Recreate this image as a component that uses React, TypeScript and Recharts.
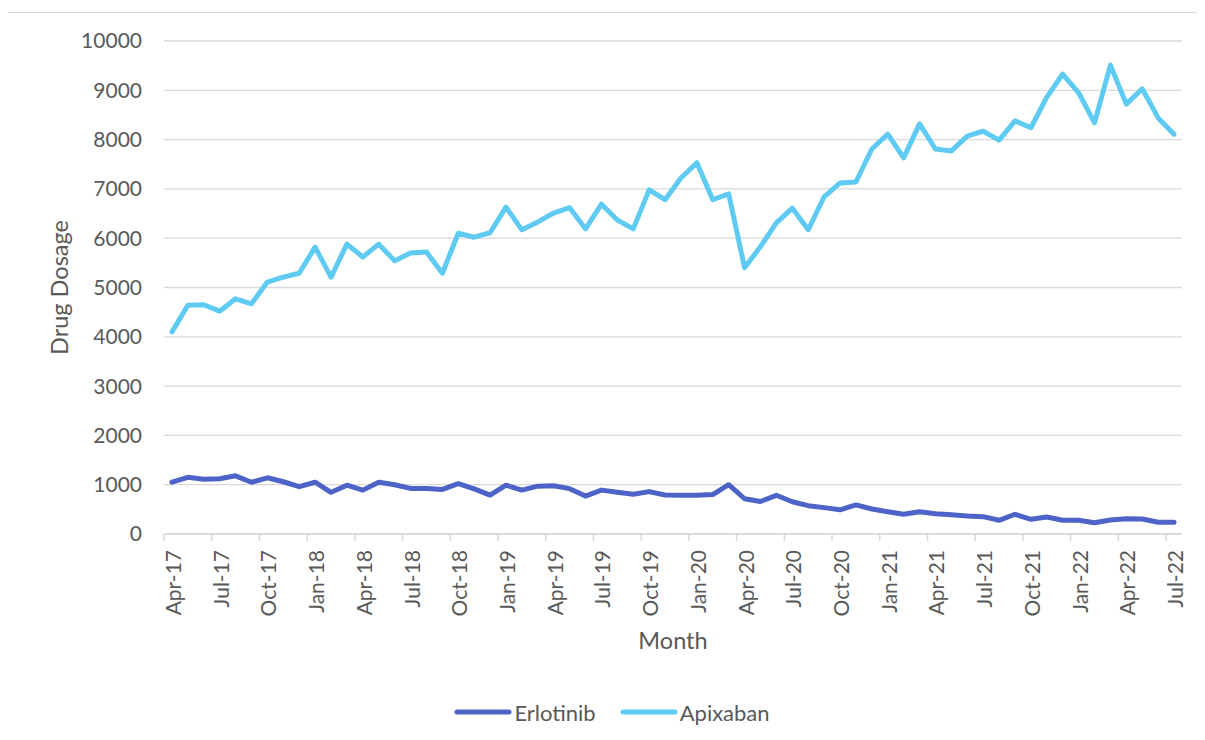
import { LineChart, Line, XAxis, YAxis, CartesianGrid, Legend } from "recharts";

// monthly drug dosage, Apr-17 .. Jul-22
const MONTHS = [
  "Apr-17", "May-17", "Jun-17", "Jul-17", "Aug-17", "Sep-17", "Oct-17", "Nov-17", "Dec-17",
  "Jan-18", "Feb-18", "Mar-18", "Apr-18", "May-18", "Jun-18", "Jul-18", "Aug-18", "Sep-18", "Oct-18", "Nov-18", "Dec-18",
  "Jan-19", "Feb-19", "Mar-19", "Apr-19", "May-19", "Jun-19", "Jul-19", "Aug-19", "Sep-19", "Oct-19", "Nov-19", "Dec-19",
  "Jan-20", "Feb-20", "Mar-20", "Apr-20", "May-20", "Jun-20", "Jul-20", "Aug-20", "Sep-20", "Oct-20", "Nov-20", "Dec-20",
  "Jan-21", "Feb-21", "Mar-21", "Apr-21", "May-21", "Jun-21", "Jul-21", "Aug-21", "Sep-21", "Oct-21", "Nov-21", "Dec-21",
  "Jan-22", "Feb-22", "Mar-22", "Apr-22", "May-22", "Jun-22", "Jul-22",
];

const ERLOTINIB = [
  1050, 1150, 1110, 1120, 1180, 1050, 1140, 1060, 960,
  1050, 845, 990, 890, 1050, 1000, 925, 925, 905, 1020, 915, 790,
  990, 890, 970, 980, 920, 770, 890, 845, 805, 860, 790, 785,
  785, 800, 1000, 715, 660, 785, 655, 575, 535, 490, 590, 507,
  450, 400, 450, 412, 392, 365, 352, 278, 400, 298, 345, 278,
  278, 230, 284, 310, 305, 237, 237,
];

const APIXABAN = [
  4100, 4640, 4650, 4520, 4770, 4670, 5110, 5210, 5290,
  5820, 5210, 5880, 5620, 5880, 5540, 5700, 5720, 5290, 6100, 6020, 6110,
  6630, 6170, 6330, 6510, 6620, 6190, 6690, 6370, 6190, 6980, 6780, 7220,
  7530, 6780, 6900, 5400, 5830, 6310, 6610, 6170, 6840, 7120, 7140, 7810,
  8110, 7630, 8320, 7810, 7770, 8070, 8170, 7990, 8380, 8240, 8860, 9330,
  8950, 8340, 9510, 8720, 9030, 8440, 8110,
];

const SERIES_NAMES = ["Erlotinib", "Apixaban"];

const X_TICK_LABELS = [
  "Apr-17", "Jul-17", "Oct-17", "Jan-18", "Apr-18", "Jul-18", "Oct-18", "Jan-19", "Apr-19", "Jul-19", "Oct-19",
  "Jan-20", "Apr-20", "Jul-20", "Oct-20", "Jan-21", "Apr-21", "Jul-21", "Oct-21", "Jan-22", "Apr-22", "Jul-22",
];
const Y_TICKS = [0, 1000, 2000, 3000, 4000, 5000, 6000, 7000, 8000, 9000, 10000];

const data = MONTHS.map((month, idx) => ({ idx, month, erlotinib: ERLOTINIB[idx], apixaban: APIXABAN[idx] }));
const xTicks = X_TICK_LABELS.map((label) => MONTHS.indexOf(label));

const FONT = "Lato, 'Open Sans', sans-serif";
const TEXT = "#595959";
const GRID = "#d9d9d9";

const CHART_W = 1196;
const CHART_H = 730;
const MARGIN = { top: 28, right: 22, bottom: 16, left: 0 };
const Y_AXIS_W = 156;
const PLOT_W = CHART_W - MARGIN.left - MARGIN.right - Y_AXIS_W;
const BAND = PLOT_W / MONTHS.length;

function MonthTick({ x, y, payload }: any) {
  return (
    <g>
      <line x1={x - BAND / 2} x2={x - BAND / 2} y1={y} y2={y + 7} stroke={GRID} strokeWidth={1.5} />
      <text
        transform={`translate(${x + 9},${y + 16}) rotate(-90)`}
        textAnchor="end"
        fill={TEXT}
        fontSize={21}
        fontFamily={FONT}
      >
        {MONTHS[payload.value]}
      </text>
    </g>
  );
}

function YTitle({ viewBox }: any) {
  const x = viewBox.x + 60;
  const y = viewBox.y + viewBox.height / 2;
  return (
    <text x={x} y={y} transform={`rotate(-90 ${x} ${y})`} textAnchor="middle" fill={TEXT} fontSize={23.5} fontFamily={FONT}>
      Drug Dosage
    </text>
  );
}

function XTitle({ viewBox }: any) {
  return (
    <text x={viewBox.x + viewBox.width / 2} y={viewBox.y + 115} textAnchor="middle" fill={TEXT} fontSize={23.5} fontFamily={FONT}>
      Month
    </text>
  );
}

function LegendContent({ payload }: any) {
  const items = [...(payload ?? [])].sort(
    (a: any, b: any) => SERIES_NAMES.indexOf(a.value) - SERIES_NAMES.indexOf(b.value)
  );
  return (
    <div
      style={{
        display: "flex",
        justifyContent: "center",
        alignItems: "center",
        height: 30,
        paddingLeft: 12,
        fontFamily: FONT,
        fontSize: 22,
        color: TEXT,
      }}
    >
      {items.map((item: any, i: number) => (
        <div key={item.value} style={{ display: "flex", alignItems: "center", marginLeft: i === 0 ? 0 : 24 }}>
          <svg width={58} height={8} style={{ marginRight: 2 }}>
            <line x1={3} x2={55} y1={4} y2={4} stroke={item.color} strokeWidth={5} strokeLinecap="round" />
          </svg>
          <span>{item.value}</span>
        </div>
      ))}
    </div>
  );
}

export default function App() {
  return (
    <div
      style={{
        position: "relative",
        left: -1,
        top: 4,
        width: CHART_W,
        height: CHART_H,
        border: `1px solid ${GRID}`,
        background: "#fff",
      }}
    >
      <LineChart width={CHART_W} height={CHART_H} data={data} margin={MARGIN} style={{ fontFamily: FONT }}>
        <CartesianGrid vertical={false} stroke={GRID} strokeWidth={1.3} />
        <XAxis
          dataKey="idx"
          type="number"
          domain={[-0.5, MONTHS.length - 0.5]}
          ticks={xTicks}
          interval={0}
          height={163}
          tickSize={0}
          tickMargin={0}
          tickLine={false}
          axisLine={{ stroke: GRID, strokeWidth: 1.5 }}
          tick={<MonthTick />}
          label={<XTitle />}
        />
        <YAxis
          type="number"
          domain={[0, 10000]}
          ticks={Y_TICKS}
          interval={0}
          width={Y_AXIS_W}
          tickSize={0}
          tickMargin={22}
          axisLine={false}
          tickLine={false}
          tick={{ fill: TEXT, fontSize: 21, fontFamily: FONT }}
          label={<YTitle />}
        />
        <Legend
          verticalAlign="bottom"
          content={<LegendContent />}
          wrapperStyle={{ left: 0, width: CHART_W }}
        />
        <Line
          type="linear"
          dataKey="erlotinib"
          name="Erlotinib"
          stroke="#4e63c8"
          strokeWidth={5}
          strokeLinejoin="round"
          strokeLinecap="round"
          dot={false}
          activeDot={false}
          isAnimationActive={false}
        />
        <Line
          type="linear"
          dataKey="apixaban"
          name="Apixaban"
          stroke="#5fcbf3"
          strokeWidth={5}
          strokeLinejoin="round"
          strokeLinecap="round"
          dot={false}
          activeDot={false}
          isAnimationActive={false}
        />
      </LineChart>
    </div>
  );
}
